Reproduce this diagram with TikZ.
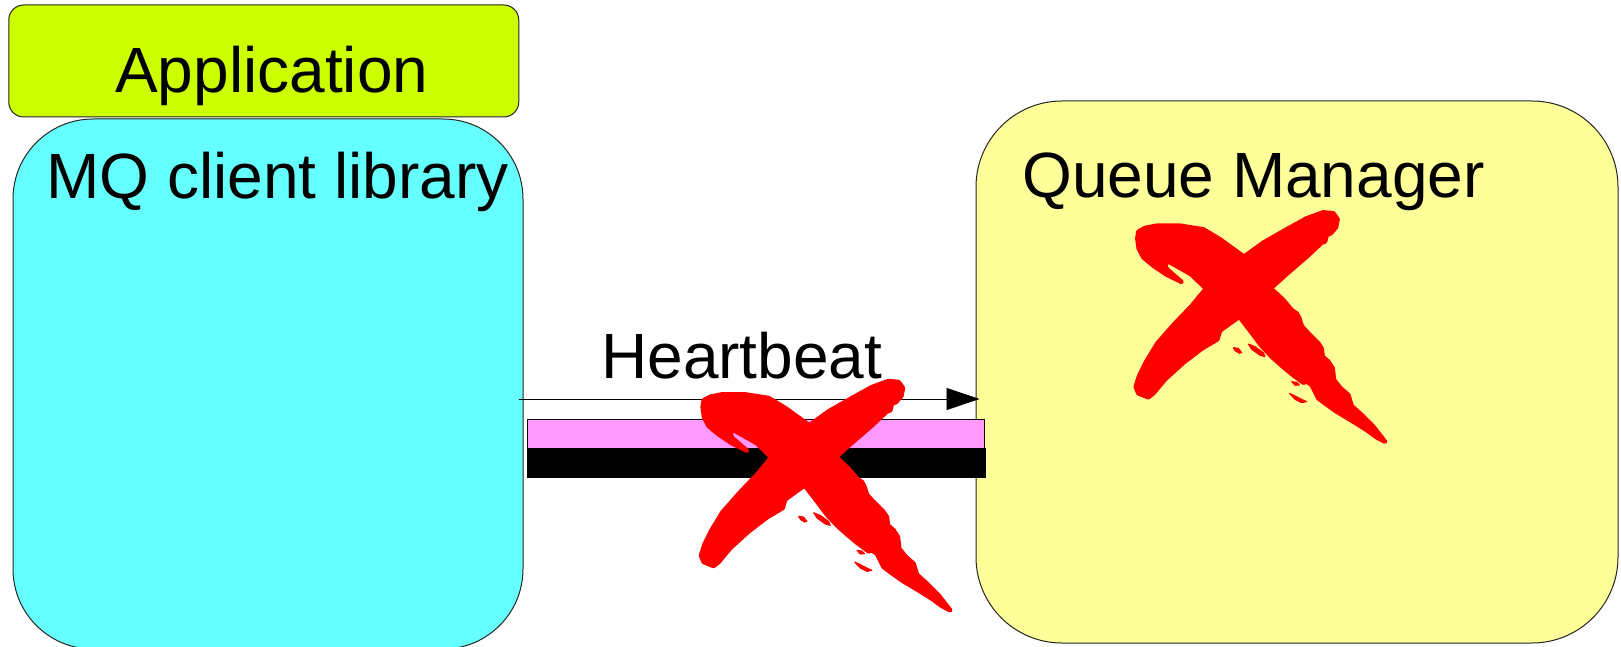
\documentclass[tikz,border=0pt]{standalone}
\usepackage{fontspec}
\setmainfont{Liberation Sans}
\usetikzlibrary{arrows.meta,positioning}
\definecolor{appgreen}{HTML}{CCFF00}
\definecolor{clientcyan}{HTML}{66FFFF}
\definecolor{qmyellow}{HTML}{FFFF99}
\definecolor{pipepink}{HTML}{FF99FF}
\definecolor{crossred}{HTML}{FF0000}
\tikzset{box/.style={draw=black!85, line width=1pt, inner sep=0pt}, lbl/.style={font=\fontsize{64}{72}\selectfont, inner sep=0pt, anchor=base west}, beat/.style={-{Triangle[length=33pt,width=22pt]}, line width=.9pt, color=black}, brush/.style={fill=crossred, draw=crossred, line width=4.5pt, line join=round}}
% brush-stroke cross, drawn in a 3x grid
\tikzset{brushx/.pic={
\filldraw[brush] (55,95) -- (75,84) -- (110,77) -- (180,77) -- (250,88) -- (300,118) -- (372,170) -- (430,128) -- (500,88) -- (560,55) -- (610,37) -- (640,40) -- (653,58) -- (648,82) -- (632,100) -- (620,105) -- (615,125) -- (605,128) -- (560,170) -- (500,222) -- (452,265) -- (490,300) -- (515,330) -- (530,340) -- (538,355) -- (545,378) -- (565,400) -- (595,430) -- (605,445) -- (608,470) -- (625,485) -- (638,505) -- (642,540) -- (662,565) -- (685,585) -- (695,618) -- (725,645) -- (760,680) -- (795,725) -- (770,712) -- (740,690) -- (700,665) -- (650,635) -- (615,610) -- (595,595) -- (585,575) -- (575,555) -- (560,545) -- (550,548) -- (542,542) -- (515,522) -- (485,497) -- (455,470) -- (425,438) -- (395,398) -- (358,350) -- (330,370) -- (300,392) -- (292,418) -- (245,446) -- (190,488) -- (135,538) -- (100,580) -- (85,592) -- (55,580) -- (47,560) -- (58,526) -- (78,486) -- (112,430) -- (165,370) -- (215,318) -- (258,266) -- (215,224) -- (175,201) -- (148,186) -- (133,190) -- (141,208) -- (185,246) -- (140,224) -- (100,197) -- (70,172) -- (56,145) -- (52,115) -- cycle;
\filldraw[brush, line width=1pt] (340,443) -- (355,445) -- (365,458) -- (358,460) -- (345,452) -- cycle;
\filldraw[brush, line width=1pt] (385,432) -- (405,440) -- (430,458) -- (435,470) -- (420,466) -- (395,448) -- cycle;
\filldraw[brush, line width=1pt] (515,545) -- (530,547) -- (538,555) -- (525,556) -- cycle;
\filldraw[brush, line width=1pt] (508,580) -- (520,585) -- (545,598) -- (560,605) -- (545,608) -- (525,598) -- cycle;
}}

\begin{document}
\begin{tikzpicture}[x=1pt,y=-1pt]
\clip (0,0) rectangle (1621,647);
% the three boxes
\node[box, fill=qmyellow, rounded corners=86pt, minimum width=642pt, minimum height=542pt] (qm) at (1297,372) {};
\node[box, fill=clientcyan, rounded corners=80pt, minimum width=510pt, minimum height=530pt] (mq) at (268,384) {};
\node[box, fill=appgreen, rounded corners=15pt, minimum width=510pt, minimum height=112pt] (app) at (263.75,61) {};
\node[lbl] (apptxt) at (115,93) {Application};
\node[lbl] (mqtxt) at (46,198) {MQ client library};
\node[lbl] (qmtxt) at (1022,197) {Queue Manager};
\node[lbl] (hbtxt) at (601,378) {Heartbeat};
% heartbeat and the connection pipe
\coordinate (beatlevel) at (0,399);
\draw[beat, shorten <=-5pt, shorten >=-4pt] (mq.east |- beatlevel) -- (qm.west |- beatlevel);
\filldraw[fill=pipepink, draw=black, line width=.8pt] (527,419) rectangle (984,448);
\fill (527,448) rectangle (986,478);
% broken
\pic[scale=1/3] at (685.3,368.7) {brushx};
\pic[scale=1/3] at (1120,200) {brushx};
\end{tikzpicture}
\end{document}
